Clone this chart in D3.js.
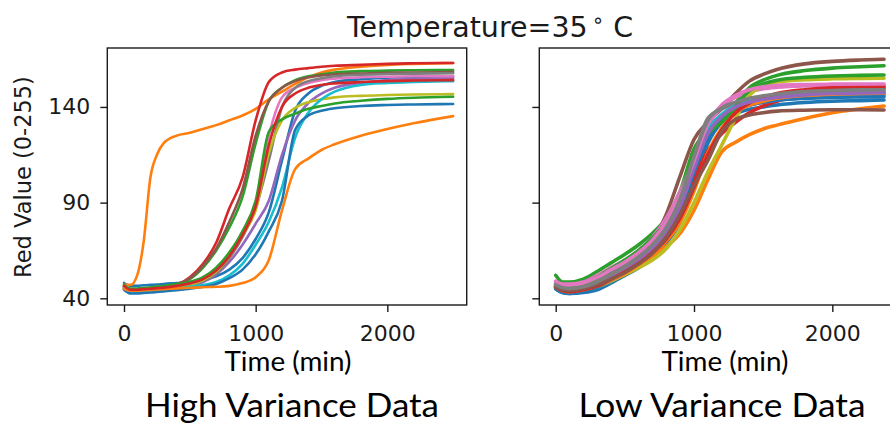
<!DOCTYPE html>
<html>
<head>
<meta charset="utf-8">
<script src="https://cdn.jsdelivr.net/npm/d3@7/dist/d3.min.js"></script>
<style>
  html, body { margin: 0; padding: 0; background: #fff; }
  svg { display: block; }
</style>
</head>
<body>
<svg id="chart" width="890" height="426"></svg>
<script>
// Sampling times (minutes) for each panel
const leftTimes = [0, 50, 100, 150, 200, 250, 300, 400, 500, 600, 700, 800, 900, 1000, 1100, 1200, 1300, 1400, 1500, 1600, 1800, 2000, 2200, 2500];
const rightTimes = [0, 50, 100, 200, 300, 400, 500, 600, 700, 800, 900, 1000, 1100, 1200, 1300, 1400, 1500, 1600, 1800, 2000, 2200, 2374];

// High variance wells: red channel value over time
const highVariance = [
  [48, 46.5, 46.5, 46.8, 47, 47.2, 47.5, 48, 48.5, 49.5, 51.5, 55, 61, 71, 85, 112, 138, 147, 151, 153, 154.5, 155.3, 155.7, 156],
  [47, 47, 52, 70, 103, 115, 121, 125, 126.5, 128.5, 130.5, 133, 135.5, 139, 144, 148, 152, 155.5, 158, 159.5, 161, 162, 162.5, 163],
  [46, 45, 45, 45.3, 45.6, 46, 46.3, 47.5, 50, 56, 65, 77, 93, 121, 143, 150, 154, 156, 157, 158, 158.7, 159, 159.2, 159.3],
  [46, 44, 44, 44.3, 44.6, 45, 45.4, 47, 51, 58, 69, 87, 103, 133, 153, 158, 159.5, 160.3, 161, 161.5, 162, 162.5, 162.8, 163],
  [45, 43.5, 43.5, 43.7, 44, 44.3, 44.6, 45.3, 46.5, 48.5, 52.5, 59, 68, 79, 91, 115, 133, 142, 147, 150, 152.5, 154, 154.5, 155],
  [46, 44.5, 44.5, 44.8, 45, 45.4, 45.8, 47, 50.5, 57, 66, 80, 97, 125, 143, 150, 153.5, 155.5, 156.5, 157, 157.5, 157.8, 158, 158.2],
  [45.5, 44, 44, 44.3, 44.6, 45, 45.3, 46.2, 47.5, 50, 55, 63, 75, 90, 125, 145, 150, 152.5, 154, 154.8, 155.5, 155.8, 156, 156],
  [45, 43.8, 43.8, 44, 44.3, 44.6, 45, 45.8, 47, 49, 53, 61, 72, 87, 112, 140, 150, 153.5, 155, 156, 156.8, 157.2, 157.4, 157.6],
  [45, 43.8, 43.8, 44, 44.3, 44.6, 45, 45.8, 47, 49.5, 54, 62, 73, 86, 116, 133, 139.5, 142.5, 144, 145, 145.8, 146.2, 146.5, 146.7],
  [45, 43.5, 43.5, 43.7, 44, 44.2, 44.5, 45, 46, 47, 48.5, 52, 58, 68, 80, 98, 124, 137, 144, 148, 151.5, 152.5, 153, 153.5],
  [44.5, 42.5, 42.5, 42.8, 43, 43.3, 43.6, 44.2, 45, 46, 47.5, 50.5, 55, 63, 75, 91, 128, 135.5, 138, 139.3, 140.5, 141, 141.3, 141.5],
  [45, 44, 44, 44.2, 44.4, 44.6, 44.8, 45.2, 45.5, 45.8, 46, 46.5, 48, 51, 60, 86, 107.5, 113, 117.5, 120.5, 125, 128.5, 131.5, 135.2],
  [47, 45, 45, 45.3, 45.6, 46, 46.4, 47.3, 48.5, 51, 56, 64, 75, 91, 127, 133.5, 136.5, 139, 140.5, 141.8, 143.2, 144.2, 144.8, 145.3],
  [46.5, 44.5, 44.5, 44.8, 45, 45.3, 45.6, 46.5, 47.8, 50, 54.5, 62, 73, 88, 120, 140, 147, 150, 151.5, 152.3, 153, 153.5, 153.8, 154]
];

// Low variance wells
const lowVariance = [
  [45, 43, 42.5, 43, 44.5, 48, 52, 56, 61.5, 69, 80, 100, 121, 132, 136.5, 138.8, 140, 141, 142.3, 143, 143.3, 143.6],
  [46, 44.5, 44, 45, 47, 49.5, 52.5, 56.5, 61.5, 67, 74, 86, 102, 116.5, 121.5, 125.5, 128.5, 130.5, 134, 137, 139, 140.5],
  [52, 48.5, 48.5, 50, 54, 58.5, 63, 68, 74, 82, 96, 118, 127, 133, 142, 150, 154, 156.5, 159, 160.3, 161, 161.5],
  [46, 44, 44, 45, 47.5, 51, 55, 60, 66, 74, 86, 102, 117, 126, 132, 137, 140.5, 143, 146.5, 148.5, 149.3, 149.7],
  [47, 45, 44.5, 45.5, 48, 52, 56, 61, 67, 76, 90, 108, 125, 134, 138.5, 141, 142.5, 143.5, 145, 145.7, 146, 146.2],
  [47, 45.5, 45.5, 46, 49, 53, 57, 62, 70, 84, 104, 123, 132, 139, 147, 153.5, 157, 159.6, 162.5, 163.8, 164.5, 164.9],
  [49, 47.5, 47.5, 48.5, 52, 56, 60, 65, 72, 82, 96, 113, 130, 140, 145, 148, 149.5, 150.3, 151, 151.2, 151.3, 151.4],
  [47, 45.5, 45, 46, 49, 53, 57, 62, 68.5, 77, 92, 114, 134, 139, 141.5, 143, 144, 144.7, 146, 147, 147.6, 148],
  [46, 44, 43.5, 44, 46, 49, 52.5, 56, 60, 66, 76, 90, 106, 120, 134, 146, 151, 153, 154.2, 154.7, 154.9, 155],
  [46, 44, 44, 45, 47.5, 51.5, 55.5, 60.5, 67, 76, 92, 112, 128, 136, 140.5, 143, 144.5, 145.5, 146.3, 146.7, 146.9, 147],
  [45, 43, 42.5, 43.5, 46, 49.5, 53.5, 58, 64, 72, 85, 106, 124, 134, 138.5, 141, 142.5, 143.5, 144.5, 145, 145.2, 145.3],
  [46, 44, 43.5, 44.5, 46.5, 49.5, 53, 57.5, 63, 70, 80, 96, 116, 129, 137, 141, 143, 144.5, 146, 146.7, 147, 147.2],
  [48, 46.5, 46.5, 47.5, 51, 55.5, 60, 65, 71.5, 80, 94, 114, 126, 132, 140, 148.5, 152, 154, 155.5, 156.2, 156.5, 156.7],
  [46, 44, 43.5, 44.5, 46.5, 50, 54, 58.5, 64, 71, 82, 98, 115, 128, 137, 142, 145, 147, 149, 150, 150.3, 150.5],
  [46.5, 45, 44.5, 45.5, 48, 52, 56, 60.5, 66.5, 75, 88, 108, 126, 135, 140, 142.5, 144, 145, 146.3, 147, 147.3, 147.5],
  [46, 44.5, 44, 45, 47, 50, 53.5, 58, 63.5, 72, 84, 99, 112, 127, 133.5, 135.8, 137, 137.8, 138.3, 138.5, 138.5, 138.4],
  [48.5, 47, 47, 48, 51, 55, 59, 64, 70.5, 80, 94, 112, 131, 141, 146, 149, 150.5, 151.2, 151.7, 151.9, 152, 152],
  [47, 45.5, 45, 46, 48.5, 52.5, 56.5, 61.5, 68, 77, 92, 114, 133, 139.5, 142.5, 144.5, 145.8, 146.8, 148, 148.6, 148.9, 149]
];

const yTicks = [40, 90, 140];
const xTicks = [0, 1000, 2000];
const titleText = "Temperature=35";
const xLabel = "Time (min)";
const yLabel = "Red Value (0-255)";
const panelCaptions = ["High Variance Data", "Low Variance Data"];

const svg = d3.select("#chart");
const colors = d3.schemeCategory10;

const plotTop = 48, plotBottom = 305;
const y = d3.scaleLinear().domain([36.5, 170.8]).range([plotBottom, plotTop]);

function drawPanel(cfg) {
  const x = d3.scaleLinear().domain(cfg.xDomain).range(cfg.xRange);
  const g = svg.append("g");
  const clipId = "clip-" + cfg.id;
  g.append("clipPath").attr("id", clipId)
    .append("rect")
    .attr("x", cfg.xRange[0]).attr("y", plotTop)
    .attr("width", cfg.xRange[1] - cfg.xRange[0]).attr("height", plotBottom - plotTop);

  const line = d3.line()
    .x((d, i) => x(cfg.times[i]))
    .y(d => y(d))
    .curve(d3.curveMonotoneX);

  g.append("g").attr("clip-path", `url(#${clipId})`)
    .selectAll("path")
    .data(cfg.series)
    .join("path")
    .attr("d", line)
    .attr("fill", "none")
    .attr("stroke", (d, i) => colors[i % 10])
    .attr("stroke-width", cfg.lineWidth)
    .attr("stroke-linejoin", "round")
    .attr("stroke-linecap", "round");

  // frame
  g.append("rect")
    .attr("x", cfg.xRange[0]).attr("y", plotTop)
    .attr("width", cfg.xRange[1] - cfg.xRange[0]).attr("height", plotBottom - plotTop)
    .attr("fill", "none").attr("stroke", "#1a1a1a").attr("stroke-width", 1.4);

  const yAxis = d3.axisLeft(y).tickValues(yTicks).tickSize(7).tickPadding(10);
  if (!cfg.yLabels) yAxis.tickFormat("");
  const ya = g.append("g").attr("transform", `translate(${cfg.xRange[0]},0)`).call(yAxis);

  const xAxis = d3.axisBottom(x).tickValues(xTicks).tickSize(7).tickPadding(13).tickFormat(d3.format("d"));
  const xa = g.append("g").attr("transform", `translate(0,${plotBottom})`).call(xAxis);

  [ya, xa].forEach(a => {
    a.select(".domain").remove();
    a.selectAll(".tick line").attr("stroke", "#1a1a1a").attr("stroke-width", 1.4);
    a.selectAll(".tick text")
      .attr("fill", "#1a1a1a")
      .style("font-family", "'DejaVu Sans', sans-serif")
      .style("font-size", "22px");
  });

  // x axis label
  svg.append("text")
    .attr("x", cfg.xLabelX).attr("y", 371)
    .attr("text-anchor", "middle")
    .attr("textLength", 127).attr("lengthAdjust", "spacingAndGlyphs")
    .style("font-family", "Lato, sans-serif").style("font-size", "26px")
    .attr("fill", "#000")
    .text(xLabel);

  // caption under the panel
  svg.append("text")
    .attr("x", cfg.captionX).attr("y", 417)
    .attr("text-anchor", "middle")
    .attr("textLength", cfg.captionW).attr("lengthAdjust", "spacingAndGlyphs")
    .style("font-family", "Lato, sans-serif").style("font-size", "33px")
    .attr("fill", "#000")
    .text(cfg.caption);
}

drawPanel({
  id: "high", times: leftTimes, series: highVariance,
  xDomain: [-127, 2603], xRange: [107.3, 466.7],
  lineWidth: 2.6, yLabels: true,
  xLabelX: 288, captionX: 292, captionW: 294, caption: panelCaptions[0]
});

drawPanel({
  id: "low", times: rightTimes, series: lowVariance,
  xDomain: [-118.6, 2490], xRange: [539.3, 900.1],
  lineWidth: 3.6, yLabels: false,
  xLabelX: 725, captionX: 722, captionW: 287, caption: panelCaptions[1]
});

// y axis label
svg.append("text")
  .attr("transform", "translate(31,177) rotate(-90)")
  .attr("text-anchor", "middle")
  .style("font-family", "'DejaVu Sans', sans-serif").style("font-size", "22.5px")
  .attr("fill", "#1a1a1a")
  .text(yLabel);

// figure title with a superscript degree ring
const title = svg.append("text")
  .attr("x", 347).attr("y", 37)
  .style("font-family", "'DejaVu Sans', sans-serif").style("font-size", "28.5px")
  .attr("fill", "#1a1a1a");
title.append("tspan").text(titleText);
title.append("tspan").attr("dx", 4).attr("dy", -10).style("font-size", "20px").text("\u2218");
title.append("tspan").attr("dx", 9).attr("dy", 10).text("C");
</script>
</body>
</html>
